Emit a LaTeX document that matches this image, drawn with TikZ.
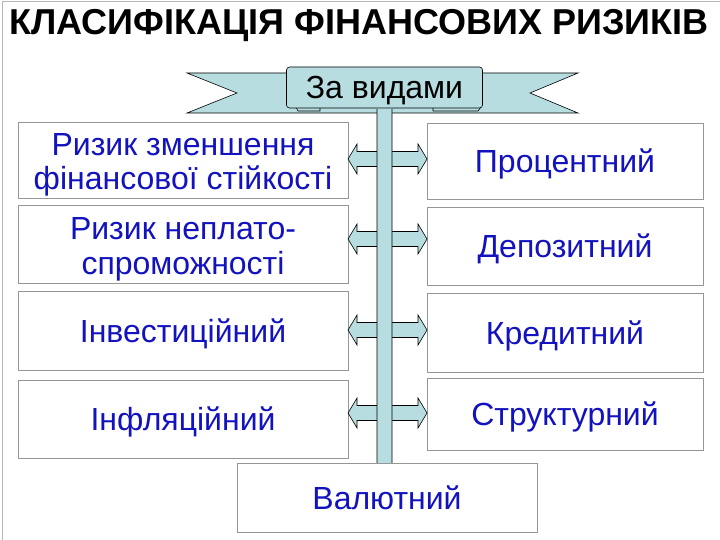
\documentclass[tikz,border=0pt]{standalone}
\usepackage{fontspec}
\setmainfont{Liberation Sans}
\usetikzlibrary{positioning,calc}
\definecolor{RibbonClr}{RGB}{183,221,224}
\definecolor{RiskClr}{RGB}{18,18,190}
\definecolor{FrameClr}{RGB}{150,150,150}

\tikzset{
  riskbox/.style={draw=FrameClr, fill=white, inner sep=0pt, align=center,
    text=RiskClr, font=\fontsize{32}{35}\selectfont, text height=23pt, text depth=0pt},
  twoline/.style={text height=60pt, text depth=0pt},
  ribbon/.style={fill=RibbonClr, draw=black, line width=0.6pt},
}

% block arrows to both sides of the shaft, at height #1
\newcommand{\sideArrows}[1]{%
  \draw[ribbon] (377,#1-7.5) -- (357,#1-7.5) -- (357,#1-15) -- (348,#1)
    -- (357,#1+15) -- (357,#1+7.5) -- (377,#1+7.5);
  \draw[ribbon] (392,#1-7.5) -- (418,#1-7.5) -- (418,#1-15) -- (427,#1)
    -- (418,#1+15) -- (418,#1+7.5) -- (392,#1+7.5);
}

\begin{document}
\begin{tikzpicture}[x=1pt,y=-1pt]
\useasboundingbox (0,0) rectangle (720,540);
\fill[white] (0,0) rectangle (720,540);
\draw[FrameClr!70, line width=1pt] (2,540) -- (2,1.5) -- (720,1.5);

\node[font=\fontsize{36}{40}\selectfont\bfseries, inner sep=0pt] (title) at (359,26)
  {КЛАСИФІКАЦІЯ ФІНАНСОВИХ РИЗИКІВ};

% ribbon
\draw[ribbon] (187,73) -- (578,73) -- (530,93) -- (578,113) -- (187,113) -- (237,93) -- cycle;
\draw[ribbon] (296,107) -- (298,111) -- (320,111) -- (320,107);
\draw[ribbon] (433,107) -- (433,111) -- (478,111) -- (481,107);
\node[ribbon, rounded corners=3pt, minimum width=196pt, minimum height=41pt, inner sep=0pt,
  font=\fontsize{32}{35}\selectfont, text height=23pt, text depth=0pt] (vydy) at (384.5,87.5) {За видами};

% left column
\node[riskbox, twoline, minimum width=330pt, minimum height=76pt] (zmen) at (183,160)
  {Ризик зменшення\\фінансової стійкості};
\node[riskbox, twoline, minimum width=330pt, minimum height=78pt] (neplat) at (183,244)
  {Ризик неплато-\\спроможності};
\node[riskbox, minimum width=330pt, minimum height=79pt] (invest) at (183,330.5)
  {Інвестиційний};
\node[riskbox, minimum width=330pt, minimum height=78pt] (infl) at (183,419)
  {Інфляційний};

% right column
\node[riskbox, minimum width=276pt, minimum height=76pt] (proc) at (565,161)
  {Процентний};
\node[riskbox, minimum width=276pt, minimum height=78pt] (depoz) at (565,246)
  {Депозитний};
\node[riskbox, minimum width=276pt, minimum height=79pt] (kred) at (565,332.5)
  {Кредитний};
\node[riskbox, minimum width=276pt, minimum height=72pt] (strukt) at (565,414)
  {Структурний};

\foreach \yy in {159,239,330,413} {\sideArrows{\yy}}

% shaft
\draw[ribbon] ($(vydy.south)+(-7.5,0.5)$) -- ($(vydy.south)+(-7.5,364)$)
  -- ($(vydy.south)+(-24,364)$) -- ($(vydy.south)+(0,386)$)
  -- ($(vydy.south)+(24,364)$) -- ($(vydy.south)+(7.5,364)$)
  -- ($(vydy.south)+(7.5,0.5)$);

\node[riskbox, minimum width=300pt, minimum height=69pt] (valut) at (387,497.5)
  {Валютний};
\end{tikzpicture}
\end{document}
